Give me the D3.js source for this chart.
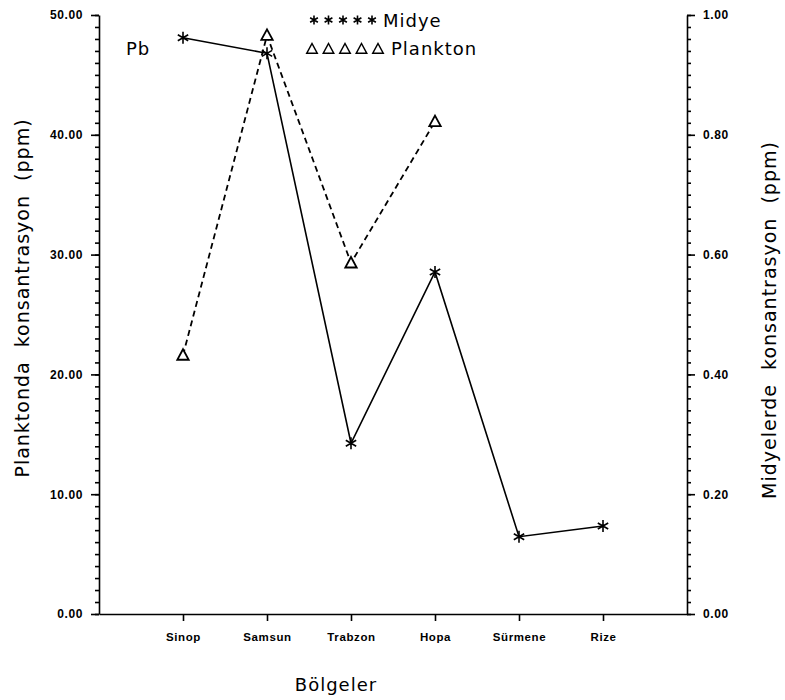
<!DOCTYPE html>
<html>
<head>
<meta charset="utf-8">
<script src="https://cdnjs.cloudflare.com/ajax/libs/d3/7.8.5/d3.min.js"></script>
<style>
  body { margin: 0; background: #fff; }
  svg { font-family: "DejaVu Sans", "Liberation Sans", Arial, sans-serif; }
  .tick text { font-weight: bold; fill: #000; letter-spacing: 0.6px; }
  .title { white-space: pre; letter-spacing: 1px; }
</style>
</head>
<body>
<svg id="chart" width="785" height="700"></svg>
<script>
/* data */
var regions = ["Sinop", "Samsun", "Trabzon", "Hopa", "Sürmene", "Rize"];
var midye = [0.962, 0.936, 0.285, 0.571, 0.129, 0.147];      // right axis, ppm
var plankton = [21.6, 48.3, 29.3, 41.1];                      // left axis, ppm (Sinop..Hopa)
var leftTicks = [0, 10, 20, 30, 40, 50];
var rightTicks = [0, 0.2, 0.4, 0.6, 0.8, 1.0];

/* settings */
var margin = { top: 15, left: 99, right: 98, bottom: 86 },
    width = 785, height = 700,
    innerWidth = width - margin.left - margin.right,
    innerHeight = height - margin.top - margin.bottom;

var svg = d3.select("#chart");
var g = svg.append("g")
    .attr("transform", "translate(" + margin.left + "," + margin.top + ")");

/* scales */
var xScale = d3.scalePoint().domain(regions).range([0, innerWidth]).padding(1);
var yLeft = d3.scaleLinear().domain([0, 50]).range([innerHeight, 0]);
var yRight = d3.scaleLinear().domain([0, 1]).range([innerHeight, 0]);

/* minor ticks first, so the major ones sit on top */
g.append("g")
    .call(d3.axisLeft(yLeft).tickValues(d3.range(0, 51, 1)).tickSize(4).tickFormat(""))
    .call(function (a) { a.select(".domain").remove(); a.selectAll("text").remove(); });
g.append("g")
    .attr("transform", "translate(" + innerWidth + ",0)")
    .call(d3.axisRight(yRight).tickValues(d3.range(0, 51, 1).map(function (d) { return d / 50; })).tickSize(4).tickFormat(""))
    .call(function (a) { a.select(".domain").remove(); a.selectAll("text").remove(); });

/* left axis */
g.append("g")
    .call(d3.axisLeft(yLeft).tickValues(leftTicks).tickSize(8).tickSizeOuter(0).tickPadding(8).tickFormat(d3.format(".2f")))
    .selectAll("text").style("font-size", "12px");

/* right axis */
g.append("g")
    .attr("transform", "translate(" + innerWidth + ",0)")
    .call(d3.axisRight(yRight).tickValues(rightTicks).tickSize(8).tickSizeOuter(0).tickPadding(8).tickFormat(d3.format(".2f")))
    .selectAll("text").style("font-size", "12px");

/* bottom axis */
g.append("g")
    .attr("transform", "translate(0," + innerHeight + ")")
    .call(d3.axisBottom(xScale).tickSize(7).tickSizeOuter(0).tickPadding(12))
    .selectAll("text").style("font-size", "11.5px");

g.selectAll(".domain, .tick line").attr("stroke", "#000").attr("stroke-width", 1.6);

/* lines */
var planktonLine = d3.line()
    .x(function (d, i) { return xScale(regions[i]); })
    .y(function (d) { return yLeft(d); });
var midyeLine = d3.line()
    .x(function (d, i) { return xScale(regions[i]); })
    .y(function (d) { return yRight(d); });

g.append("path").datum(plankton)
    .attr("d", planktonLine)
    .attr("fill", "none").attr("stroke", "#000")
    .attr("stroke-width", 1.8).attr("stroke-dasharray", "6,4");

g.append("path").datum(midye)
    .attr("d", midyeLine)
    .attr("fill", "none").attr("stroke", "#000").attr("stroke-width", 1.6);

/* markers */
function star(r) {  // six armed asterisk
    var p = "", a;
    for (var k = 0; k < 3; k++) {
        a = Math.PI / 2 + k * Math.PI / 3;
        p += "M" + (r * Math.cos(a)) + "," + (-r * Math.sin(a)) +
             "L" + (-r * Math.cos(a)) + "," + (r * Math.sin(a));
    }
    return p;
}
function tri(r) {
    return "M0," + (-r) + "L" + (r * 0.95) + "," + (r * 0.75) + "L" + (-r * 0.95) + "," + (r * 0.75) + "Z";
}

g.selectAll(".star").data(midye).enter().append("path")
    .attr("class", "star")
    .attr("transform", function (d, i) { return "translate(" + xScale(regions[i]) + "," + yRight(d) + ")"; })
    .attr("d", star(6))
    .attr("stroke", "#000").attr("stroke-width", 1.6);

g.selectAll(".tri").data(plankton).enter().append("path")
    .attr("class", "tri")
    .attr("transform", function (d, i) { return "translate(" + xScale(regions[i]) + "," + yLeft(d) + ")"; })
    .attr("d", tri(6))
    .attr("fill", "#fff").attr("stroke", "#000").attr("stroke-width", 1.8);

/* legend */
var legend = svg.append("g");
d3.range(5).forEach(function (k) {
    legend.append("path")
        .attr("transform", "translate(" + (314 + k * 14.5) + ",20)")
        .attr("d", star(4.5))
        .attr("stroke", "#000").attr("stroke-width", 1.6);
    legend.append("path")
        .attr("transform", "translate(" + (312 + k * 16.5) + ",49)")
        .attr("d", tri(5.5))
        .attr("fill", "none").attr("stroke", "#000").attr("stroke-width", 1.5);
});
legend.append("text").attr("class", "title").attr("x", 383).attr("y", 27).style("font-size", "18px").text("Midye");
legend.append("text").attr("class", "title").attr("x", 391).attr("y", 55).style("font-size", "18px").text("Plankton");

/* titles */
svg.append("text").attr("class", "title").attr("x", 126).attr("y", 55).style("font-size", "18px").text("Pb");

svg.append("text")
    .attr("class", "title")
    .attr("transform", "translate(29,298) rotate(-90)")
    .style("text-anchor", "middle").style("font-size", "19px")
    .text("Planktonda  konsantrasyon  (ppm)");

svg.append("text")
    .attr("class", "title")
    .attr("transform", "translate(776,320) rotate(-90)")
    .style("text-anchor", "middle").style("font-size", "19px")
    .text("Midyelerde  konsantrasyon  (ppm)");

svg.append("text")
    .attr("class", "title")
    .attr("x", 336).attr("y", 691)
    .style("text-anchor", "middle").style("font-size", "18px")
    .text("Bölgeler");
</script>
</body>
</html>
